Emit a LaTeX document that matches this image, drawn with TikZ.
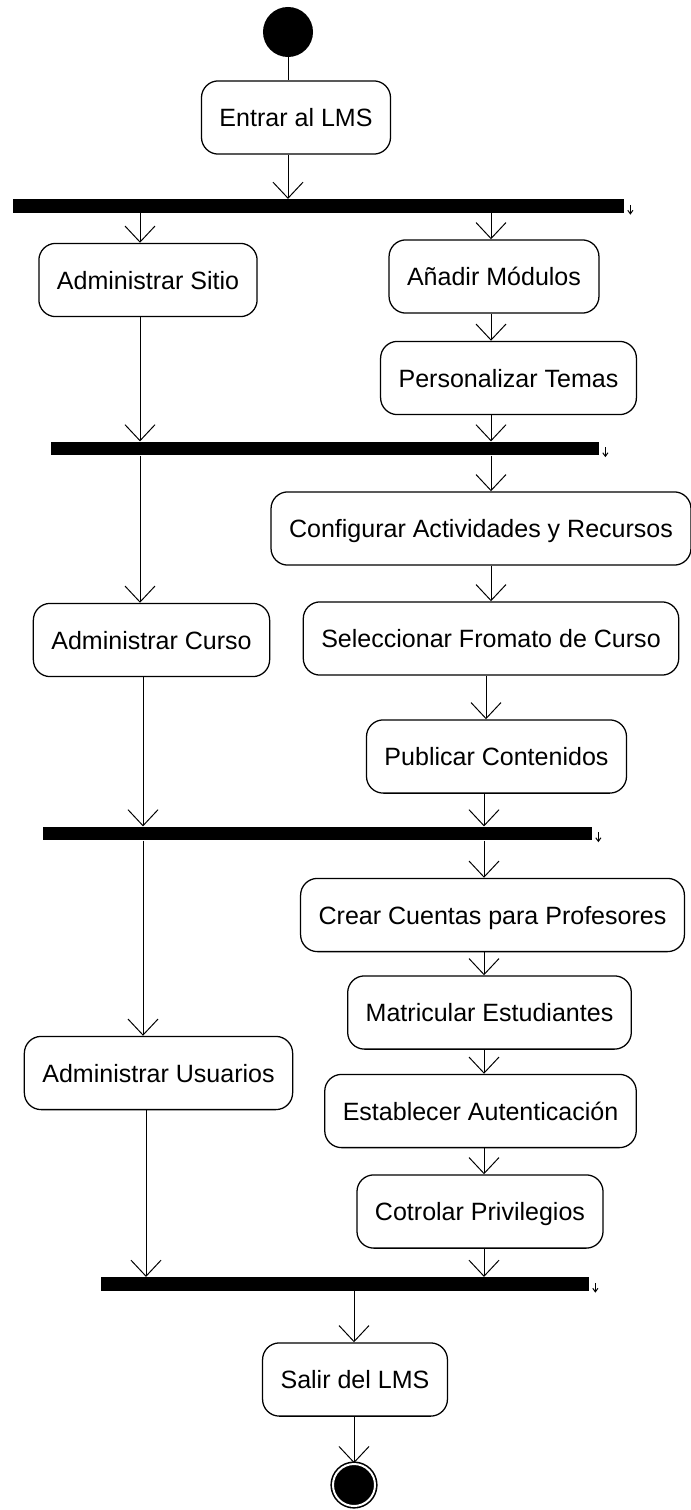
\documentclass[tikz,border=0pt]{standalone}
\usepackage{fontspec}
\setmainfont{Liberation Sans}
\usetikzlibrary{arrows.meta}
\tikzset{
  actividad/.style={draw, rounded corners=0.42cm, line width=0.9pt, inner xsep=0.45cm,
    minimum height=1.83cm, text height=0.45cm, text depth=0pt,
    font=\fontsize{17.8}{21}\selectfont},
  barra/.style={fill=black, inner sep=0pt, minimum height=0.34cm},
  inicio/.style={circle, fill=black, inner sep=0pt, minimum size=1.25cm},
  final/.style={circle, fill=black, draw=black, double=white, double distance=0.05cm,
    line width=0.04cm, inner sep=0pt, minimum size=1.05cm},
  flujo/.style={-{Straight Barb[length=0.4cm,width=0.75cm]}, line width=0.7pt},
  marca/.style={-{Straight Barb[length=0.09cm,width=0.13cm]}, line width=0.7pt}
}
\begin{document}
\begin{tikzpicture}[x=0.025cm,y=-0.025cm]
\useasboundingbox (0,0) rectangle (690,1510);
\node[inicio] (inicio) at (288,32) {};
\node[actividad] (entrar) at (296,117.5) {Entrar al LMS};
\node[barra,minimum width=15.275cm] (bar1) at (318.5,206) {};
\node[actividad] (sitio) at (148,280) {Administrar Sitio};
\node[actividad] (modulos) at (494,276.5) {Añadir Módulos};
\node[actividad] (temas) at (508.5,378) {Personalizar Temas};
\node[barra,minimum width=13.7cm] (bar2) at (325,448.5) {};
\node[actividad] (configurar) at (481,528.5) {Configurar Actividades y Recursos};
\node[actividad] (curso) at (151.5,640) {Administrar Curso};
\node[actividad] (formato) at (491,638.5) {Seleccionar Fromato de Curso};
\node[actividad] (publicar) at (496.5,756.5) {Publicar Contenidos};
\node[barra,minimum width=13.725cm] (bar3) at (317.5,833.5) {};
\node[actividad] (crear) at (492.5,915) {Crear Cuentas para Profesores};
\node[actividad] (matricular) at (489.5,1012.5) {Matricular Estudiantes};
\node[actividad] (usuarios) at (158.5,1073) {Administrar Usuarios};
\node[actividad] (establecer) at (480.5,1111) {Establecer Autenticación};
\node[actividad] (cotrolar) at (480,1211.5) {Cotrolar Privilegios};
\node[barra,minimum width=12.2cm] (bar4) at (345,1284) {};
\node[actividad] (salir) at (355,1379.5) {Salir del LMS};
\node[final] (fin) at (354,1485) {};
% columnas de las flechas
\coordinate (izq1) at (140,0);
\coordinate (izq2) at (143,0);
\coordinate (izq3) at (146,0);
\coordinate (der1) at (491,0);
\coordinate (der2) at (486,0);
\coordinate (der3) at (484,0);
\draw[line width=0.7pt] (inicio) -- (entrar.north -| inicio);
\draw[flujo] (entrar.south -| inicio) -- (bar1.north -| inicio);
\draw[flujo] (bar1.south -| izq1) -- (sitio.north -| izq1);
\draw[flujo] (bar1.south -| der1) -- (modulos.north -| der1);
\draw[flujo] (modulos.south -| der1) -- (temas.north -| der1);
\draw[flujo] (sitio.south -| izq1) -- (bar2.north -| izq1);
\draw[flujo] (temas.south -| der1) -- (bar2.north -| der1);
\draw[flujo] (bar2.south -| izq1) -- (curso.north -| izq1);
\draw[flujo] (bar2.south -| der1) -- (configurar.north -| der1);
\draw[flujo] (configurar.south -| der1) -- (formato.north -| der1);
\draw[flujo] (formato.south -| der2) -- (publicar.north -| der2);
\draw[flujo] (curso.south -| izq2) -- (bar3.north -| izq2);
\draw[flujo] (publicar.south -| der3) -- (bar3.north -| der3);
\draw[flujo] (bar3.south -| izq2) -- (usuarios.north -| izq2);
\draw[flujo] (bar3.south -| der3) -- (crear.north -| der3);
\draw[flujo] (crear.south -| der3) -- (matricular.north -| der3);
\draw[flujo] (matricular.south -| der3) -- (establecer.north -| der3);
\draw[flujo] (establecer.south -| der3) -- (cotrolar.north -| der3);
\draw[flujo] (usuarios.south -| izq3) -- (bar4.north -| izq3);
\draw[flujo] (cotrolar.south -| der3) -- (bar4.north -| der3);
\draw[flujo] (bar4.south -| fin) -- (salir.north -| fin);
\draw[flujo] (salir.south -| fin) -- (fin.north);
% marcas al final de las barras
\foreach \b in {bar1,bar2,bar3,bar4}
  \draw[marca] ([xshift=0.15cm,yshift=0.03cm]\b.east) -- ([xshift=0.15cm,yshift=-0.04cm]\b.south east);
\end{tikzpicture}
\end{document}
